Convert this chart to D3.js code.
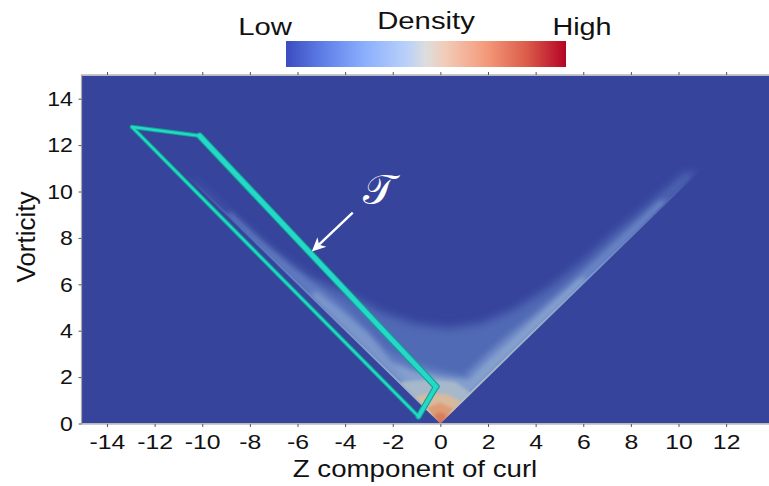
<!DOCTYPE html>
<html><head><meta charset="utf-8">
<script src="https://cdn.jsdelivr.net/npm/d3@7"></script>
<style>
body{margin:0;background:#fff}
svg{display:block}
text{font-family:"Liberation Sans",Arial,Helvetica,sans-serif;fill:#111}
</style>
</head><body>
<svg id="c" width="769" height="486"></svg>
<script>
// ---------- data ----------
const xTicks = [-14,-12,-10,-8,-6,-4,-2,0,2,4,6,8,10,12];
const yTicks = [0,2,4,6,8,10,12,14];
const xTitle = "Z component of curl";
const yTitle = "Vorticity";
const legendTitle = "Density";
const legendLow = "Low";
const legendHigh = "High";
// coolwarm colour map of the density bar
const colorbarPos    = [0, 0.143, 0.286, 0.429, 0.5, 0.571, 0.714, 0.857, 1];
const colorbarColors = ["#3b4cc0","#6282ea","#8db0fe","#b8d0f9","#dddddd","#f2cbb7","#f49a7b","#dc5d4a","#b40426"];

// density level regions (curl_z, vorticity)
const regionCloud = [[0,0],[10.8,10.8],[10.3,10.8],[8.5,9.2],[7.2,8.1],[5.9,6.9],[4.5,5.8],[3.1,4.9],[1.7,4.3],[0.3,4.1],[-1.1,4.3],[-2.5,4.8],[-4,5.6],[-5.5,6.3],[-7,7.4],[-8.5,8.7],[-10.2,10.35],[-10.5,10.5]];
const regionRightFan = [[0,0],[9.6,9.6],[9.2,9.6],[7.2,7.7],[5.5,6.1],[4,4.8],[2.8,3.8],[1.8,2.9],[1,2.1],[0.4,1.3]];
const regionLeftFan = [[0,0],[-9,9],[-8.8,9.1],[-7.5,7.85],[-6.2,6.7],[-5,5.8],[-4,5.0],[-3,3.9],[-2.2,3.1],[-1,2.6],[0.3,2.25],[1.4,2.0],[1.0,1.3]];
const regionLower = [[0,0],[1.5,1.5],[1.2,1.9],[0,2.05],[-1.2,2.3],[-2.4,2.8],[-3.6,3.6]];
const regionRightInner = [[0,0],[6.2,6.2],[5.9,6.3],[3.5,4.1],[2,2.7],[1,1.7]];
const regionLeftInner = [[0,0],[-5.5,5.5],[-5.2,5.7],[-4.2,4.9],[-3,3.9]];
const regionCore1 = [[0,0],[1.3,1.3],[0.6,1.8],[-0.5,1.9],[-1.6,1.8],[-1.7,1.7]];
const regionCore2 = [[0,0],[0.9,0.9],[0.3,1.25],[-0.5,1.3],[-1.1,1.1]];
const regionCore3 = [[0,0],[0.6,0.6],[0,0.9],[-0.65,0.65]];
const regionCore4 = [[0,0],[0.32,0.32],[0,0.5],[-0.32,0.32]];
const regionLevels = [0.11,0.2,0.16,0.3,0.3,0.26,0.42,0.55,0.66,0.75];

// density along the two sharp edges (vorticity = |curl_z|)
const edgeY = [0,0.5,1,2,3,4,5,6,7,8,9,10,10.8];
const rightEdgeDensity = [0.8,0.55,0.46,0.42,0.4,0.37,0.33,0.28,0.23,0.18,0.13,0.08,0.01];
const leftEdgeDensity  = [0.8,0.52,0.42,0.35,0.31,0.27,0.23,0.2,0.17,0.13,0.09,0.05,0.0];

// annotated trapezoid T
const boxX = [-12.95,-10.11,-0.18,-0.92];
const boxY = [12.78,12.40,1.59,0.30];
const arrowFrom = [-3.68,9.09];
const arrowTo = [-5.40,7.41];
const boxLabel = "\u{1D4AF}";
const boxLabelPos = [-2.57,10.1];

// ---------- scales ----------
const svg = d3.select("#c");
const x = d3.scaleLinear().domain([-15.05,13.8]).range([82,769]);
const y = d3.scaleLinear().domain([0,15]).range([423.5,75.5]);
const cw = d3.scaleLinear().domain(colorbarPos).range(colorbarColors).interpolate(d3.interpolateRgb);
// rendered surface is lit: per-channel dimming
const shade = t => { const c = d3.rgb(cw(t)); return d3.rgb(c.r*0.915, c.g*0.895, c.b*0.81).formatHex(); };

const defs = svg.append("defs");
const g1 = defs.append("linearGradient").attr("id","cbar").attr("x1","0").attr("x2","1").attr("y1","0").attr("y2","0");
colorbarPos.forEach((p,i)=>g1.append("stop").attr("offset",p).attr("stop-color",colorbarColors[i]));
function blurFilter(id, sd){
  defs.append("filter").attr("id",id).attr("x","-30%").attr("y","-30%").attr("width","160%").attr("height","160%")
    .append("feGaussianBlur").attr("stdDeviation",sd);
}
blurFilter("blurCloud",5);
blurFilter("blur",2.6);
blurFilter("blur2",1.8);
blurFilter("blur3",0.7);
defs.append("clipPath").attr("id","plotclip").append("rect")
  .attr("x",x.range()[0]).attr("y",y(15)).attr("width",x.range()[1]-x.range()[0]).attr("height",y(0)-y(15));
const line = d3.line().x(d=>x(d[0])).y(d=>y(d[1]));
defs.append("clipPath").attr("id","vclip").append("path")
  .attr("d", line([[0,0],[15,15],[-15,15]])+"Z");

// helper: horizontally widened text (reference glyphs are wider than Arial)
function wideText(sel, cx, cy, str, size, sx, anchor){
  return sel.append("text").attr("transform",`translate(${cx},${cy}) scale(${sx},1)`)
    .attr("text-anchor",anchor||"middle").attr("font-size",size).text(str);
}

// ---------- colour bar legend ----------
svg.append("rect").attr("x",286).attr("y",41).attr("width",280).attr("height",26).attr("fill","url(#cbar)");
wideText(svg,265,35,legendLow,24,1.22);
wideText(svg,426,29,legendTitle,24,1.22);
wideText(svg,582,35,legendHigh,24,1.2);

// ---------- plot ----------
const plot = svg.append("g").attr("clip-path","url(#plotclip)");
plot.append("rect").attr("x",x.range()[0]).attr("y",y(15)).attr("width",x.range()[1]-x.range()[0]).attr("height",y(0)-y(15))
  .attr("fill",shade(0));

const dens = plot.append("g").attr("clip-path","url(#vclip)");
const cloud = dens.append("g").attr("filter","url(#blurCloud)");
const soft = dens.append("g").attr("filter","url(#blur)");
const core = dens.append("g").attr("filter","url(#blur2)");
const regions = [regionCloud,regionRightFan,regionLeftFan,regionLower,regionRightInner,regionLeftInner,regionCore1,regionCore2,regionCore3,regionCore4];
regions.forEach((r,i)=>{
  const target = i===0 ? cloud : (i>=6 ? core : soft);
  target.append("path").attr("d",line(r)+"Z").attr("fill",shade(regionLevels[i]));
});
// bright edges
[[1,rightEdgeDensity],[-1,leftEdgeDensity]].forEach(([s,dd],k)=>{
  const top = edgeY[edgeY.length-1];
  const gid = "edge"+k;
  const gr = defs.append("linearGradient").attr("id",gid).attr("gradientUnits","userSpaceOnUse")
    .attr("x1",x(0)).attr("y1",y(0)).attr("x2",x(s*top)).attr("y2",y(top));
  edgeY.forEach((v,i)=>gr.append("stop").attr("offset",v/top).attr("stop-color",shade(dd[i])));
  dens.append("line").attr("x1",x(0)).attr("y1",y(0)).attr("x2",x(s*top)).attr("y2",y(top))
    .attr("stroke","url(#"+gid+")").attr("stroke-width",3.5).attr("filter","url(#blur3)");
});

// cyan trapezoid (tube look)
const boxPts = boxX.map((v,i)=>[v,boxY[i]]);
const edgeW = [3.4,5.8,5.0,3.2];
const boxG = plot.append("g");
boxPts.forEach((p,i)=>{
  const q = boxPts[(i+1)%4];
  boxG.append("line").attr("x1",x(p[0])).attr("y1",y(p[1])).attr("x2",x(q[0])).attr("y2",y(q[1]))
    .attr("stroke","#10a293").attr("stroke-width",edgeW[i]+1.1).attr("stroke-linecap","round");
});
boxPts.forEach((p,i)=>{
  const q = boxPts[(i+1)%4];
  boxG.append("line").attr("x1",x(p[0])).attr("y1",y(p[1])).attr("x2",x(q[0])).attr("y2",y(q[1]))
    .attr("stroke","#25d8c7").attr("stroke-width",Math.max(1.6,edgeW[i]-1.1)).attr("stroke-linecap","round");
});

// arrow
const ax0=x(arrowFrom[0]), ay0=y(arrowFrom[1]), ax1=x(arrowTo[0]), ay1=y(arrowTo[1]);
const ang = Math.atan2(ay1-ay0, ax1-ax0);
const L=14, Wd=6.5, N=4;
const ux=Math.cos(ang), uy=Math.sin(ang), px=-uy, py=ux;
plot.append("line").attr("x1",ax0).attr("y1",ay0).attr("x2",ax1-ux*(L-N)).attr("y2",ay1-uy*(L-N))
  .attr("stroke","#fff").attr("stroke-width",2.4);
plot.append("path").attr("fill","#fff").attr("d",
  `M${ax1},${ay1} L${ax1-ux*L+px*Wd},${ay1-uy*L+py*Wd} L${ax1-ux*(L-N)},${ay1-uy*(L-N)} L${ax1-ux*L-px*Wd},${ay1-uy*L-py*Wd} Z`);
plot.append("text").attr("x",x(boxLabelPos[0])).attr("y",y(boxLabelPos[1])).attr("dy","0.35em")
  .attr("text-anchor","middle").attr("font-size",42)
  .style("font-family","'DejaVu Serif','DejaVu Sans',serif").style("fill","#fff").text(boxLabel);

// frame
svg.append("rect").attr("x",x.range()[0]-0.5).attr("y",y(15)-0.5).attr("width",x.range()[1]-x.range()[0]+10).attr("height",y(0)-y(15)+1)
  .attr("fill","none").attr("stroke","#a8a8a8").attr("stroke-width",1.2);

// axes
const xAxis = d3.axisBottom(x).tickValues(xTicks).tickSize(3).tickFormat(d=>String(d));
const gx = svg.append("g").attr("transform",`translate(0,${y(0)+0.5})`).call(xAxis);
gx.select(".domain").remove();
gx.selectAll(".tick line").attr("stroke","#555");
gx.selectAll(".tick text").attr("font-size",21).attr("dy","0.9em").attr("transform","scale(1.18,1)")
  .style("font-family","'Liberation Sans',Arial,sans-serif").attr("fill","#111");
const xTop = d3.axisTop(x).tickValues(xTicks).tickSize(3).tickFormat("");
const gxt = svg.append("g").attr("transform",`translate(0,${y(15)-0.5})`).call(xTop);
gxt.select(".domain").remove();
gxt.selectAll(".tick line").attr("stroke","#555");

const yAxis = d3.axisLeft(y).tickValues(yTicks).tickSize(3).tickPadding(4).tickFormat(d=>String(d));
const gy = svg.append("g").attr("transform",`translate(${x.range()[0]-0.5},0)`).call(yAxis);
gy.select(".domain").remove();
gy.selectAll(".tick line").attr("stroke","#555");
gy.selectAll(".tick text").attr("font-size",21).attr("transform","translate(-1,0) scale(1.1,1)")
  .style("font-family","'Liberation Sans',Arial,sans-serif").attr("fill","#111");

wideText(svg,415,477,xTitle,24.5,1.13);
svg.append("text").attr("transform","translate(35,237) rotate(-90)").attr("text-anchor","middle").attr("font-size",26).text(yTitle);
</script>
</body></html>
